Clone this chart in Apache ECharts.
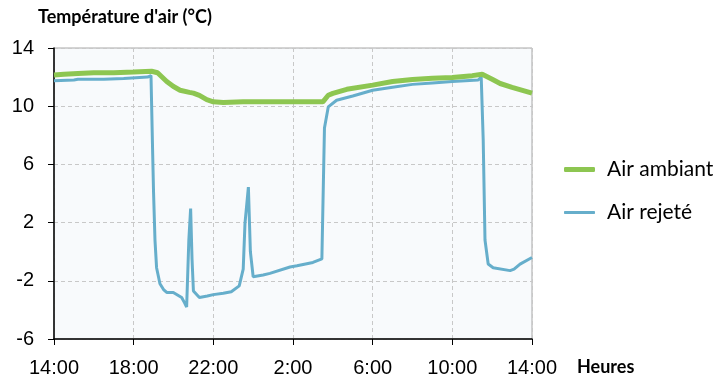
<!DOCTYPE html>
<html>
<head>
<meta charset="utf-8">
<script src="https://cdn.jsdelivr.net/npm/echarts@6/dist/echarts.min.js"></script>
<style>html,body{margin:0;padding:0;background:#fff;}#c{width:721px;height:381px;}</style>
</head>
<body>
<div id="c"></div>
<script>
const xTickLabels = ['14:00', '18:00', '22:00', '2:00', '6:00', '10:00', '14:00'];
const yTicks = [-6, -2, 2, 6, 10, 14];

// hours elapsed since 14:00
const ambiantHours = [0, 0.5, 1.2, 2, 3, 4, 4.9, 5.2, 5.66, 6.0, 6.33, 6.8, 7.0, 7.3, 7.67, 8.0, 8.5, 9.5, 11, 12.5, 13.5, 13.77, 14.0, 14.7, 16, 17, 18, 19, 20, 21, 21.5, 22.0, 22.4, 23, 24];
const ambiantTemps = [12.15, 12.2, 12.25, 12.3, 12.3, 12.35, 12.4, 12.3, 11.7, 11.35, 11.1, 10.95, 10.9, 10.75, 10.45, 10.3, 10.25, 10.3, 10.3, 10.3, 10.3, 10.75, 10.88, 11.16, 11.45, 11.7, 11.84, 11.92, 11.98, 12.1, 12.2, 11.85, 11.56, 11.3, 10.9];

const rejeteHours = [0, 1.0, 1.2, 2.5, 3.5, 4.7, 4.87, 4.95, 5.0, 5.07, 5.15, 5.32, 5.5, 5.66, 5.99, 6.41, 6.55, 6.66, 6.77, 6.86, 6.93, 7.0, 7.3, 7.7, 8.0, 8.5, 8.9, 9.3, 9.5, 9.59, 9.76, 9.86, 10.0, 10.5, 10.84, 11.85, 12.2, 13.0, 13.45, 13.5, 13.58, 13.77, 14.19, 15, 16, 17, 18, 19, 20, 21.3, 21.45, 21.55, 21.64, 21.8, 22.05, 22.9, 23.1, 23.4, 24];
const rejeteTemps = [11.75, 11.8, 11.85, 11.85, 11.9, 12.0, 12.1, 7.0, 4.0, 0.8, -1.1, -2.2, -2.6, -2.8, -2.8, -3.15, -3.5, -3.8, 0.8, 2.97, -0.5, -2.7, -3.15, -3.05, -2.95, -2.85, -2.75, -2.35, -1.2, 1.96, 4.44, 0.0, -1.72, -1.6, -1.49, -1.05, -0.97, -0.74, -0.5, 3.0, 8.5, 9.95, 10.41, 10.7, 11.1, 11.3, 11.5, 11.6, 11.7, 11.8, 12.0, 7.7, 0.8, -0.85, -1.1, -1.3, -1.2, -0.85, -0.4];

const zip = (xs, ys) => xs.map((x, i) => [x, ys[i]]);

const chart = echarts.init(document.getElementById('c'));
chart.setOption({
  animation: false,
  title: [
    { text: "Température d'air (°C)", left: 33, top: 3,
      textStyle: { fontFamily: 'Lato', fontWeight: 'bold', fontSize: 18, color: '#000' } },
    { text: 'Heures', left: 572, top: 353,
      textStyle: { fontFamily: 'Lato', fontWeight: 'bold', fontSize: 18, color: '#000' } }
  ],
  legend: [
    { data: ['Air ambiant'], left: 559, top: 154, orient: 'vertical', icon: 'roundRect',
      itemWidth: 31, itemHeight: 5,
      textStyle: { fontFamily: 'Lato', fontSize: 21, color: '#000', padding: [0, 0, 0, 7] } },
    { data: ['Air rejeté'], left: 559, top: 197, orient: 'vertical', icon: 'roundRect',
      itemWidth: 31, itemHeight: 3,
      textStyle: { fontFamily: 'Lato', fontSize: 21, color: '#000', padding: [0, 0, 0, 7] } }
  ],
  grid: { left: 54, right: 189, top: 48, bottom: 42, show: true,
    backgroundColor: '#f8fafc', borderColor: '#a8a8a8', borderWidth: 1 },
  xAxis: {
    type: 'value', min: 0, max: 24, interval: 4,
    axisLine: { onZero: false, lineStyle: { color: '#000', width: 1.5 } },
    axisTick: { show: true, length: 6, lineStyle: { color: '#000' } },
    axisLabel: { margin: 19, fontFamily: 'Liberation Sans', fontSize: 20, color: '#000',
      formatter: v => xTickLabels[Math.round(v / 4)] },
    splitLine: { show: true, lineStyle: { color: '#c8c8c8', type: [4, 3] } }
  },
  yAxis: {
    type: 'value', min: yTicks[0], max: yTicks[yTicks.length - 1], interval: 4,
    axisLine: { show: true, lineStyle: { color: '#000', width: 1.5 } },
    axisTick: { show: true, length: 6, lineStyle: { color: '#000' } },
    axisLabel: { margin: 20, fontFamily: 'Liberation Sans', fontSize: 20, color: '#000' },
    splitLine: { show: true, lineStyle: { color: '#c8c8c8', type: [4, 3] } }
  },
  series: [
    { name: 'Air ambiant', type: 'line', data: zip(ambiantHours, ambiantTemps), z: 3,
      showSymbol: false, color: '#8DC651', lineStyle: { width: 5, color: '#8DC651' } },
    { name: 'Air rejeté', type: 'line', data: zip(rejeteHours, rejeteTemps), z: 2,
      showSymbol: false, color: '#66AECB', lineStyle: { width: 3, color: '#66AECB' } }
  ]
});
</script>
</body>
</html>
